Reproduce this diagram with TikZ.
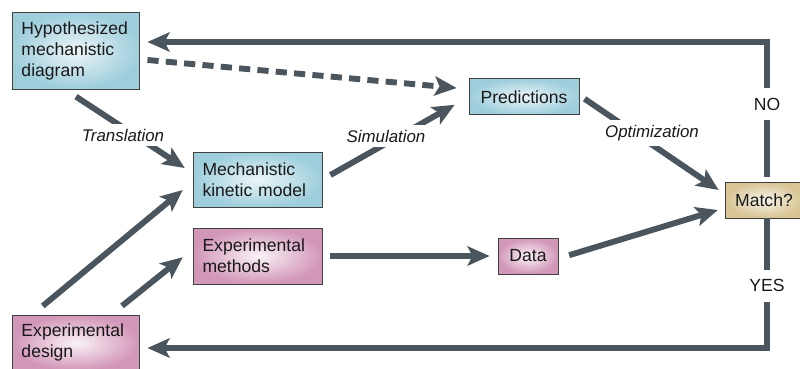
\documentclass[tikz,border=0pt]{standalone}
\usepackage{fontspec}
\setmainfont{Liberation Sans}
\usetikzlibrary{arrows.meta}

\definecolor{arrowgrey}{RGB}{75,85,93}
\definecolor{modelblue}{RGB}{158,206,220}
\definecolor{exppink}{RGB}{210,150,184}
\definecolor{matchtan}{RGB}{216,196,148}

\begin{document}
\begin{tikzpicture}[
  every node/.style={font=\fontsize{12.5}{15}\selectfont, text=black!90},
  box/.style={rectangle, draw=black!75, line width=0.5pt, inner sep=0.225cm},
  model/.style={box, shading=radial, inner color=modelblue!20, outer color=modelblue},
  expt/.style={box, shading=radial, inner color=exppink!12, outer color=exppink},
  decide/.style={box, shading=radial, inner color=matchtan!18, outer color=matchtan},
  flow/.style={line width=4.2pt, draw=arrowgrey, -{Stealth[length=0.55cm, width=0.48cm, inset=0.12cm]}},
  steplabel/.style={font=\fontsize{12}{14}\selectfont\itshape, fill=white, inner sep=3.5pt},
  answer/.style={font=\fontsize{12.5}{15}\selectfont, fill=white, inner xsep=2pt, inner ysep=0.24cm}
]
\useasboundingbox (0,0) rectangle (20,9.2);

% boxes
\node[model, text width=2.725cm, minimum height=1.85cm, align=left] (hyp) at (1.9,7.93) {Hypothesized\\mechanistic\\diagram};
\node[model, text width=2.775cm, minimum height=1.375cm, align=left] (kin) at (6.45,4.71) {Mechanistic\\kinetic model};
\node[expt, text width=2.775cm, minimum height=1.4cm, align=left] (meth) at (6.45,2.8) {Experimental\\methods};
\node[model, minimum width=2.75cm, minimum height=0.9cm] (pred) at (13.1,6.78) {Predictions};
\node[expt, minimum width=1.5cm, minimum height=0.9cm] (data) at (13.2,2.8) {Data};
\node[decide, minimum width=1.95cm, minimum height=0.9cm] (match) at (19.1,4.2) {Match?};
\node[expt, text width=2.725cm, minimum height=1.3cm, align=left] (design) at (1.9,0.63) {Experimental\\design};

% arrows
\draw[flow] ([yshift=-0.18cm]hyp.south) -- ([xshift=-0.21cm,yshift=0.29cm]kin.west);
\draw[flow] ([xshift=0.19cm,yshift=0.115cm]kin.east) -- ([xshift=-0.35cm,yshift=-0.2cm]pred.west);
\draw[flow, dash pattern=on 0.28cm off 0.18cm] ([xshift=0.19cm,yshift=-0.23cm]hyp.east) -- ([xshift=-0.3cm,yshift=0.22cm]pred.west);
\draw[flow] ([xshift=0.13cm,yshift=-0.05cm]pred.east) -- ([xshift=-0.15cm,yshift=0.25cm]match.west);
\draw[flow] ([xshift=0.27cm,yshift=0.02cm]data.east) -- ([xshift=-0.17cm,yshift=-0.25cm]match.west);
\draw[flow] ([xshift=-0.83cm,yshift=0.22cm]design.north) -- ([xshift=-0.26cm,yshift=-0.26cm]kin.west);
\draw[flow] ([xshift=1.15cm,yshift=0.22cm]design.north) -- ([xshift=-0.26cm,yshift=-0.03cm]meth.west);
\draw[flow] ([xshift=0.19cm]meth.east) -- ([xshift=-0.2cm]data.west);

% feedback loops
\draw[flow] ([xshift=0.075cm,yshift=0.12cm]match.north) |- ([xshift=0.19cm,yshift=0.22cm]hyp.east)
  node[answer, pos=0.27] (no) {NO};
\draw[flow] ([xshift=0.075cm]match.south) |- ([xshift=0.19cm,yshift=-0.13cm]design.east)
  node[answer, pos=0.26] (yes) {YES};

% step labels
\node[steplabel] (trans) at (3.075,5.825) {Translation};
\node[steplabel] (sim) at (9.65,5.8) {Simulation};
\node[steplabel] (opt) at (16.3,5.875) {Optimization};

\end{tikzpicture}
\end{document}
